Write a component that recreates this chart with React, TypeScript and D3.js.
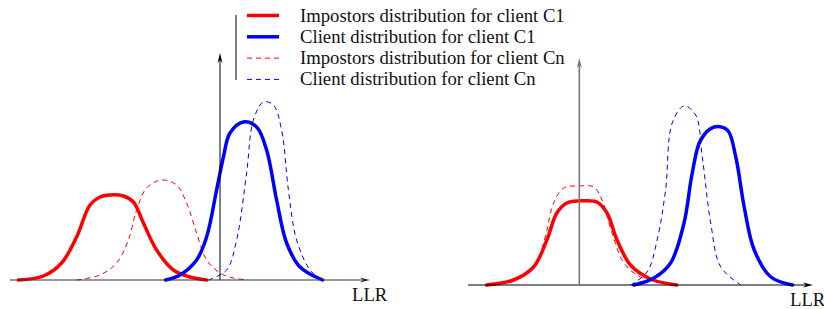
import * as d3 from "d3";

type Pt = [number, number];

// legend
const legendLabels = [
  "Impostors distribution for client C1",
  "Client distribution for client C1",
  "Impostors distribution for client Cn",
  "Client distribution for client Cn",
];
const axisLabel = "LLR";

// left panel: [LLR, density]
const leftImpC1: Pt[] = [
  [-10.08, 0], [-8.83, 0.04], [-7.92, 0.17], [-7.17, 0.43], [-6.5, 0.75], [-6.0, 0.83],
  [-5.5, 0.85], [-4.83, 0.84], [-4.33, 0.78], [-3.83, 0.57], [-3.17, 0.3], [-2.33, 0.1],
  [-1.5, 0.03], [-0.67, 0],
];
const leftCliC1: Pt[] = [
  [-2.72, 0], [-2.0, 0.05], [-1.17, 0.2], [-0.67, 0.43], [-0.17, 0.9], [0.17, 1.23],
  [0.5, 1.47], [1.17, 1.58], [1.83, 1.53], [2.33, 1.3], [2.83, 0.8], [3.33, 0.37],
  [4.0, 0.13], [5.13, 0],
];
const leftImpCn: Pt[] = [
  [-7.17, 0], [-6.0, 0.05], [-5.17, 0.17], [-4.58, 0.4], [-4.17, 0.7], [-3.67, 0.92],
  [-2.92, 1.0], [-2.17, 0.95], [-1.67, 0.77], [-1.17, 0.47], [-0.67, 0.2], [0, 0.07],
  [0.67, 0.02], [1.42, 0],
];
const leftCliCn: Pt[] = [
  [-0.58, 0], [0.33, 0.1], [0.83, 0.4], [1.33, 1.07], [1.67, 1.6], [2.17, 1.78],
  [2.67, 1.75], [3.08, 1.5], [3.42, 0.9], [3.83, 0.4], [4.5, 0.1], [5.08, 0],
];

// right panel
const rightImpC1: Pt[] = [
  [-4.62, 0], [-3.28, 0.05], [-2.28, 0.18], [-1.62, 0.45], [-1.12, 0.72], [-0.62, 0.82],
  [0, 0.84], [0.88, 0.83], [1.38, 0.72], [1.88, 0.45], [2.55, 0.2], [3.55, 0.06], [4.85, 0],
];
const rightCliC1: Pt[] = [
  [2.72, 0], [3.72, 0.07], [4.55, 0.22], [5.22, 0.62], [5.63, 1.12], [6.05, 1.45],
  [6.72, 1.58], [7.38, 1.55], [7.8, 1.28], [8.22, 0.78], [8.72, 0.35], [9.55, 0.08], [10.63, 0],
];
const rightImpCn: Pt[] = [
  [-4.62, 0], [-3.12, 0.06], [-2.2, 0.2], [-1.7, 0.48], [-1.28, 0.82], [-0.78, 0.97],
  [0, 0.99], [0.72, 0.98], [1.13, 0.85], [1.63, 0.52], [2.22, 0.22], [3.05, 0.08], [4.38, 0.01],
];
const rightCliCn: Pt[] = [
  [2.55, 0], [3.38, 0.13], [3.88, 0.45], [4.3, 0.95], [4.63, 1.62], [5.22, 1.79],
  [5.8, 1.7], [6.13, 1.28], [6.55, 0.62], [7.05, 0.18], [8.05, 0],
];

const RED = "#ff0000";
const BLUE = "#0000ff";
const FONT = "'Liberation Serif', 'Times New Roman', serif";

const styles = [
  { color: RED, width: 3.5, dash: undefined },
  { color: BLUE, width: 3.5, dash: undefined },
  { color: RED, width: 1, dash: "5,4" },
  { color: BLUE, width: 1, dash: "5,4" },
];

const arrow = (tx: number, ty: number, dir: "right" | "up") => {
  const l = 10, w = 2.5, n = 7;
  if (dir === "right")
    return `M${tx},${ty}L${tx - l},${ty - w}L${tx - n},${ty}L${tx - l},${ty + w}Z`;
  return `M${tx},${ty}L${tx - w},${ty + l}L${tx},${ty + n}L${tx + w},${ty + l}Z`;
};

const Panel = ({ xDomain, xRange, base, top, series, xAxisColor, yAxisColor, yAxisWidth, labelX, labelY }) => {
  const x = d3.scaleLinear().domain(xDomain).range(xRange);
  const y = d3.scaleLinear().domain([0, 2.27]).range([base, top]);
  const line = d3
    .line<Pt>()
    .x((d) => x(d[0]))
    .y((d) => Math.min(base, y(d[1])))
    .curve(d3.curveCatmullRom.alpha(0.5));
  // dashed first, solid on top
  const order = [2, 3, 0, 1];
  return (
    <g>
      {order.map((i) => (
        <path
          key={i}
          d={line(series[i]) || ""}
          fill="none"
          stroke={styles[i].color}
          strokeWidth={styles[i].width}
          strokeDasharray={styles[i].dash}
          strokeLinecap={styles[i].dash ? "butt" : "round"}
        />
      ))}
      <line x1={xRange[0]} x2={xRange[1] - 6} y1={y(0)} y2={y(0)} stroke={xAxisColor} strokeWidth={1} />
      <path d={arrow(xRange[1], y(0), "right")} fill={xAxisColor} />
      <line x1={x(0)} x2={x(0)} y1={y(0)} y2={top + 6} stroke={yAxisColor} strokeWidth={yAxisWidth} />
      <path d={arrow(x(0), top, "up")} fill={yAxisColor} />
      <text x={labelX} y={labelY} fontFamily={FONT} fontSize={18.7} fill="#111">
        {axisLabel}
      </text>
    </g>
  );
};

export default function App() {
  const legendY = [15.5, 36.8, 58.1, 79.4];
  return (
    <svg width={824} height={309} style={{ position: "absolute", left: 0, top: 0, background: "#fff" }}>
      <Panel
        xDomain={[-10.5, 7.5]}
        xRange={[10, 370]}
        base={280}
        top={53}
        series={[leftImpC1, leftCliC1, leftImpCn, leftCliCn]}
        xAxisColor="#333"
        yAxisColor="#000"
        yAxisWidth={1}
        labelX={352}
        labelY={301}
      />
      <Panel
        xDomain={[-5.55, 11.65]}
        xRange={[468, 813]}
        base={285}
        top={58}
        series={[rightImpC1, rightCliC1, rightImpCn, rightCliCn]}
        xAxisColor="#000"
        yAxisColor="#777"
        yAxisWidth={1.6}
        labelX={790}
        labelY={306}
      />
      <g>
        <line x1={236} x2={236} y1={15} y2={80} stroke="#000" strokeWidth={1} />
        {legendLabels.map((t, i) => (
          <g key={t}>
            <line
              x1={247}
              x2={279}
              y1={legendY[i]}
              y2={legendY[i]}
              stroke={styles[i].color}
              strokeWidth={styles[i].width}
              strokeDasharray={styles[i].dash}
            />
            <text x={300} y={legendY[i] + 6} fontFamily={FONT} fontSize={18.7} fill="#111">
              {t}
            </text>
          </g>
        ))}
      </g>
    </svg>
  );
}
